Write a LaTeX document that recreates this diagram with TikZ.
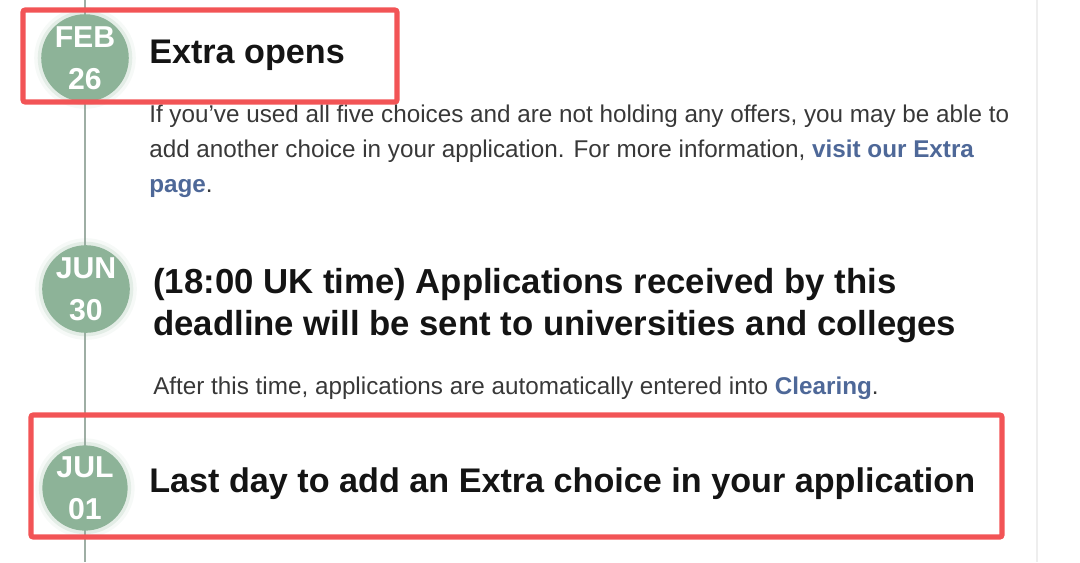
\documentclass[tikz,border=0pt]{standalone}
\usepackage{fontspec}
\setmainfont{Liberation Sans}
\usetikzlibrary{positioning}
\definecolor{sage}{RGB}{141,179,152}
\definecolor{hlred}{RGB}{242,84,86}
\definecolor{linkblue}{RGB}{78,104,152}
\definecolor{bodygrey}{RGB}{56,56,56}
\definecolor{railgrey}{RGB}{158,174,164}
\definecolor{edgegrey}{RGB}{238,238,238}

\begin{document}
\begin{tikzpicture}[x=0.025cm,y=-0.025cm,
  date/.style={circle,fill=sage,minimum size=2.1cm,inner sep=0pt,text=white,
    align=center,font=\fontsize{21.5}{30}\selectfont\bfseries,
    preaction={draw=sage,opacity=0.08,line width=10pt},
    preaction={draw=sage,opacity=0.18,line width=5pt}},
  head/.style={anchor=base west,inner sep=0pt,text=black!92,font=\fontsize{24.3}{30}\selectfont\bfseries},
  body/.style={anchor=base west,inner sep=0pt,text=bodygrey,font=\fontsize{17.25}{20}\selectfont},
  hl/.style={draw=hlred,line width=3.6pt,rounded corners=1.5pt},
  rail/.style={draw=railgrey,line width=1.8pt}]
  \useasboundingbox (0,0) rectangle (1080,562);
  \coordinate (top) at (85,0);
  \coordinate (bot) at (85,562);
  \draw[edgegrey,line width=1pt] (1037,0) -- (1037,562);
  \draw[rail] (top) -- (bot);
  % dates on the rail
  \node[date] (feb) at (85,58) {FEB\\26};
  \node[date] (jun) at (86,289) {JUN\\30};
  \node[date] (jul) at (85,488) {JUL\\01};
  % first entry
  \node[head] (h1) at (149,63) {Extra opens};
  \node[body] (b1) at (149,122) {If you\char"0027ve used all five choices and are not holding any offers, you may be able to};
  \node[body] (b2) at (149,157) {add another choice in your application. For more information, \textcolor{linkblue}{\bfseries visit our Extra}};
  \node[body] (b3) at (149,192) {\textcolor{linkblue}{\bfseries page}.};
  % second entry
  \node[head,font=\fontsize{24.7}{30}\selectfont\bfseries] (h2) at (153,293) {(18:00 UK time) Applications received by this};
  \node[head,font=\fontsize{24.7}{30}\selectfont\bfseries] (h3) at (153,335) {deadline will be sent to universities and colleges};
  \node[body] (b4) at (153,394) {After this time, applications are automatically entered into \textcolor{linkblue}{\bfseries Clearing}.};
  % third entry
  \node[head] (h4) at (149,492) {Last day to add an Extra choice in your application};
  % highlight boxes
  \draw[hl] (23,10) rectangle (397,102);
  \draw[hl] (31,415) rectangle (1002,537);
\end{tikzpicture}
\end{document}
